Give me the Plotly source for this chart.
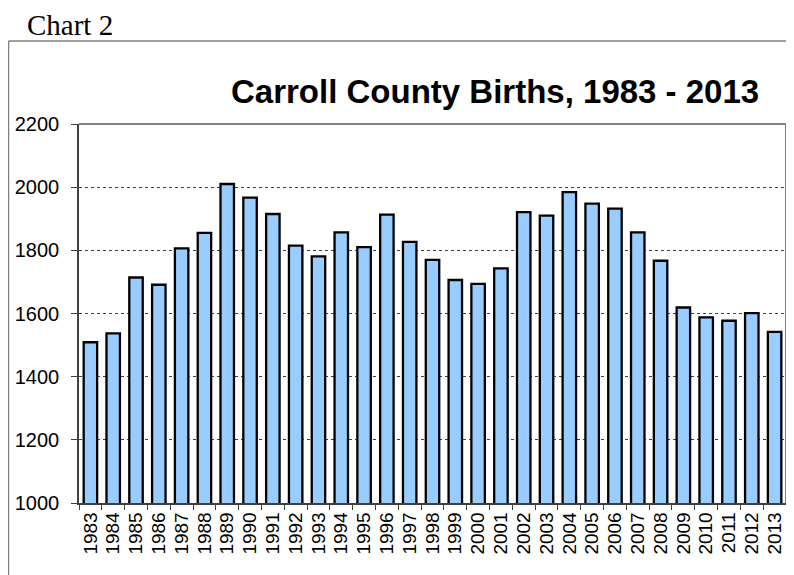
import plotly.graph_objects as go

years = [str(y) for y in range(1983, 2014)]
births = [1509, 1537, 1714, 1691, 1806, 1855, 2010, 1967, 1915, 1815, 1781,
          1857, 1810, 1913, 1827, 1770, 1706, 1694, 1743, 1921, 1910, 1984,
          1948, 1932, 1857, 1767, 1619, 1588, 1577, 1601, 1542]
y_ticks = [1000, 1200, 1400, 1600, 1800, 2000, 2200]
title_text = "Carroll County Births, 1983 - 2013"
label_text = "Chart 2"

# page body has an 8px margin; figure is offset by (8, 8)
OFF = 8
W, H = 794 - OFF, 575 - OFF
L, R, T = 79 - OFF, 8, 124 - OFF
B = H - (503 - OFF)
pw, ph = W - L - R, H - T - B

def px_x(x):
    return (x - OFF - L) / pw

def px_y(y):
    return (H - B - (y - OFF)) / ph

fig = go.Figure()
fig.add_trace(go.Bar(
    x=years, y=births,
    marker=dict(color="#99CCFF", line=dict(color="#000000", width=2.3)),
))

fig.update_layout(
    width=W, height=H,
    margin=dict(l=L, r=R, t=T, b=B),
    paper_bgcolor="white", plot_bgcolor="white",
    showlegend=False, bargap=0.41,
    font=dict(family="Arial, Liberation Sans, sans-serif", color="#000000"),
)
fig.update_xaxes(
    type="category", tickmode="array", tickvals=years, ticktext=years,
    showgrid=False, showline=True, linecolor="#404040", linewidth=1.5,
    ticks="outside", tickson="boundaries", ticklen=5, tickcolor="#404040",
    tickangle=-90, tickfont=dict(size=19, family="Arial, Liberation Sans, sans-serif"),
)
fig.update_yaxes(
    range=[1000, 2200], tickvals=y_ticks, showgrid=True,
    gridcolor="#404040", griddash="dot", gridwidth=1,
    showline=True, linecolor="#404040", linewidth=1.5,
    ticks="outside", ticklen=6, tickcolor="#404040", ticklabelstandoff=8,
    tickfont=dict(size=20, family="Arial, Liberation Sans, sans-serif"),
    zeroline=False,
)

shapes = [
    # plot area top and right border
    dict(type="line", xref="paper", yref="paper", x0=0, x1=1, y0=1, y1=1,
         line=dict(color="#808080", width=2)),
    dict(type="line", xref="paper", yref="paper", x0=1, x1=1, y0=0, y1=1,
         line=dict(color="#808080", width=2)),
    # outer chart frame
    dict(type="line", xref="paper", yref="paper", x0=px_x(8.5), x1=px_x(794), y0=px_y(41), y1=px_y(41),
         line=dict(color="#808080", width=1.5)),
    dict(type="line", xref="paper", yref="paper", x0=px_x(8.5), x1=px_x(8.5), y0=px_y(41), y1=px_y(575),
         line=dict(color="#808080", width=1.5)),
]
fig.update_layout(shapes=shapes)

fig.add_annotation(
    text=label_text, xref="paper", yref="paper", x=px_x(25), y=px_y(25),
    xanchor="left", yanchor="middle", showarrow=False,
    font=dict(family="Liberation Serif, Times New Roman, serif", size=29, color="#000000"),
)
fig.add_annotation(
    text="<b>" + title_text + "</b>", xref="paper", yref="paper", x=px_x(761), y=px_y(91),
    xanchor="right", yanchor="middle", showarrow=False,
    font=dict(family="Arial, Liberation Sans, sans-serif", size=33, color="#000000"),
)

fig.write_html("out.html")
